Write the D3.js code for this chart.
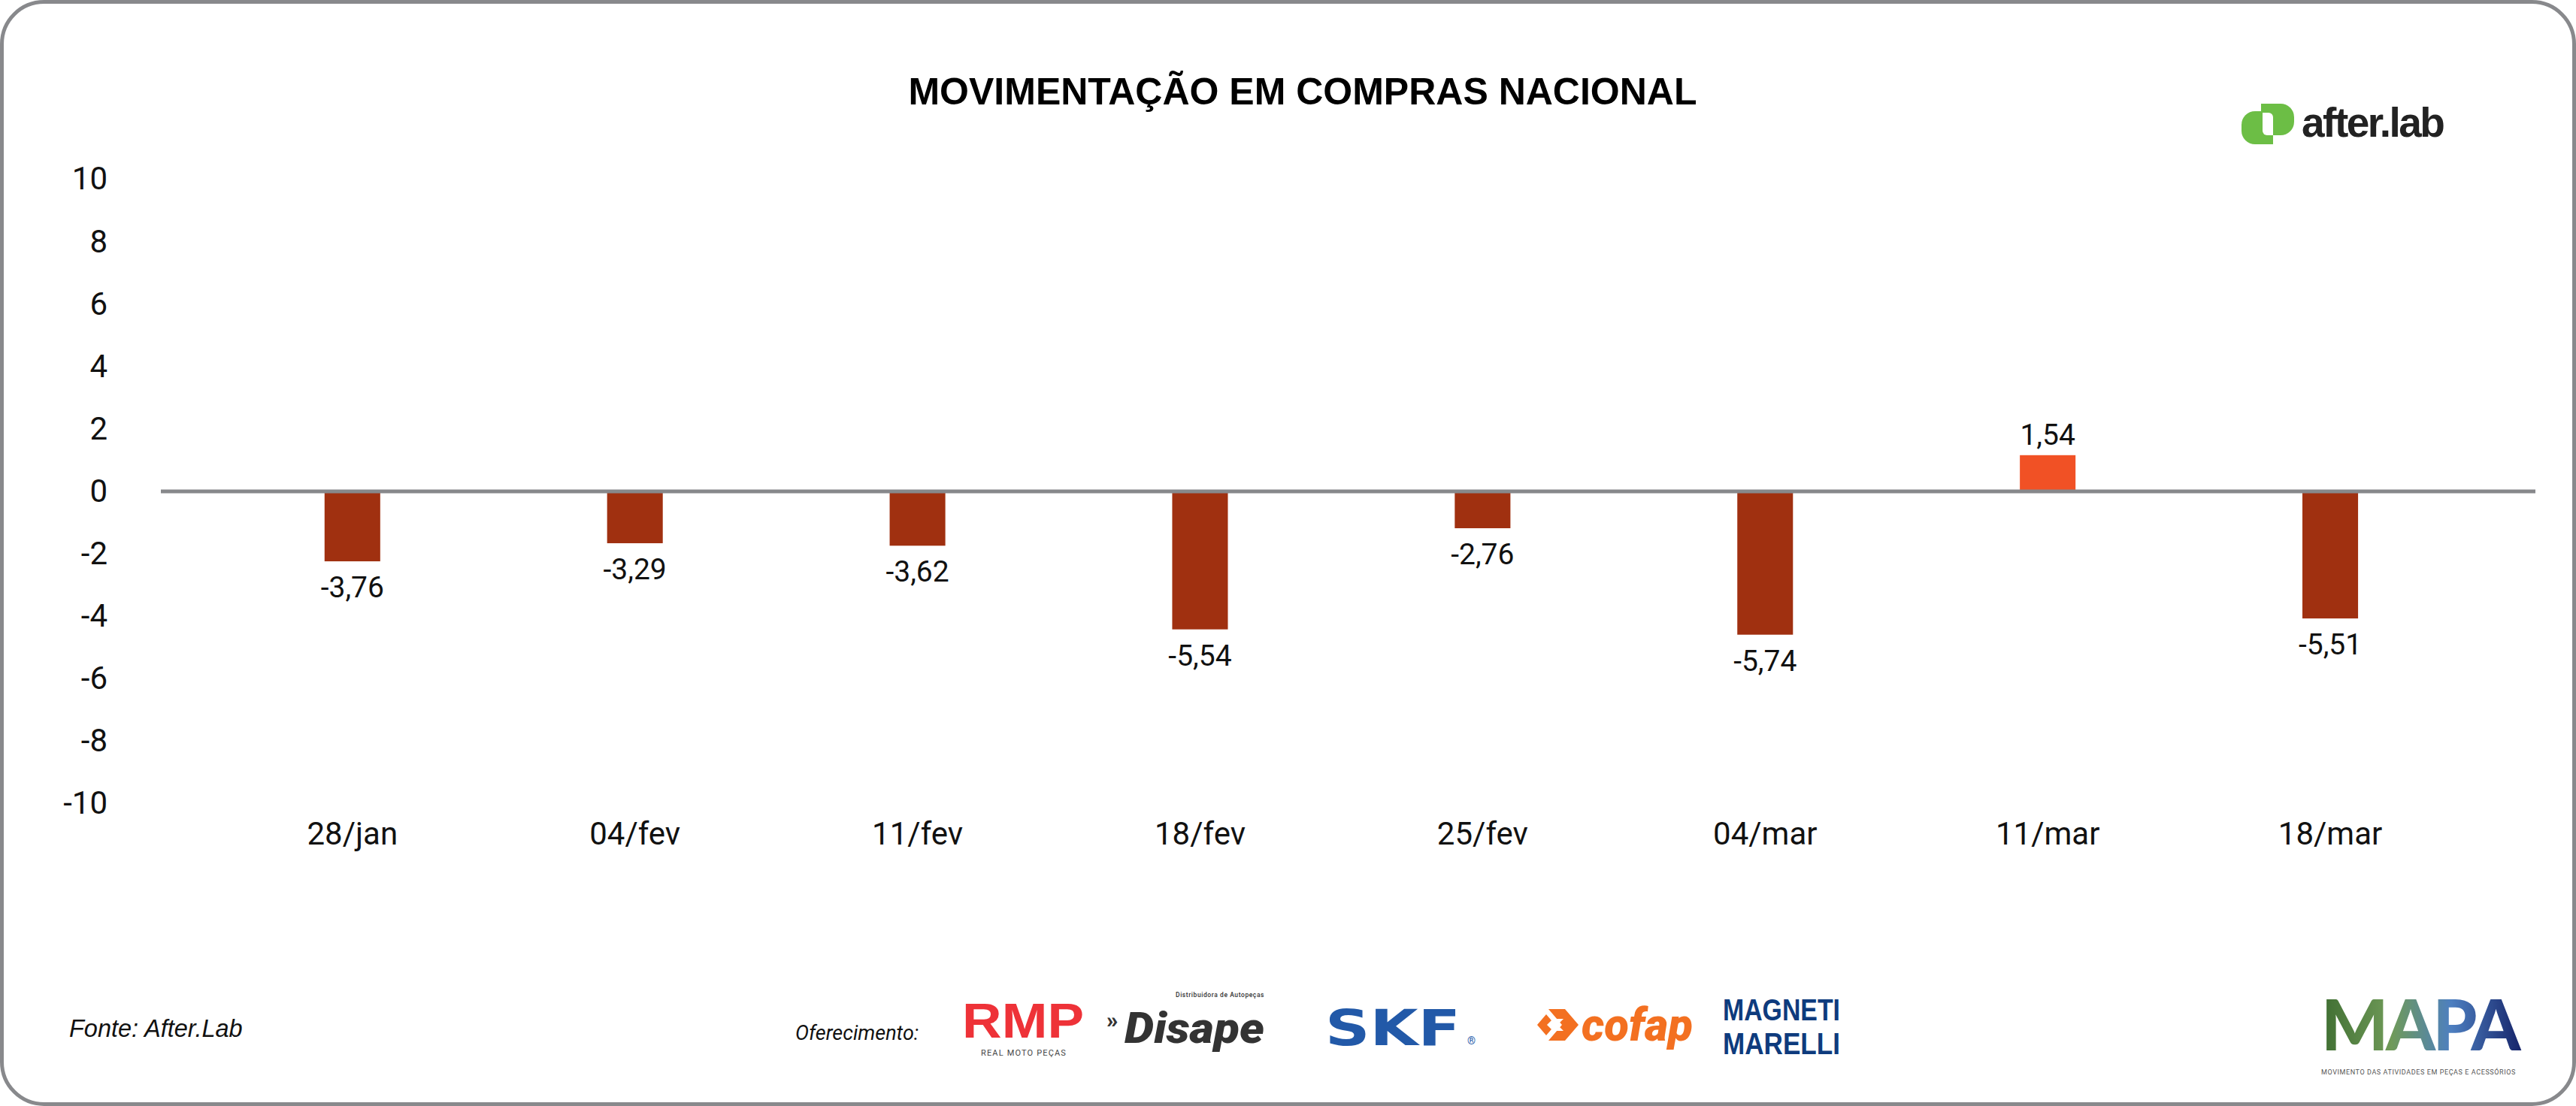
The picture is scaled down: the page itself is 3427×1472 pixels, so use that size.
<!DOCTYPE html>
<html>
<head>
<meta charset="utf-8">
<script src="https://cdn.jsdelivr.net/npm/d3@7"></script>
<style>
  html, body { margin: 0; padding: 0; background: #fff; overflow: hidden; }
  svg { display: block; }
</style>
</head>
<body>
<div id="chart"></div>
<script>
// Weekly series
const categories = ["28/jan", "04/fev", "11/fev", "18/fev", "25/fev", "04/mar", "11/mar", "18/mar"];
// bar lengths as drawn in the source picture
const barValues = [-2.24, -1.66, -1.74, -4.42, -1.18, -4.59, 1.16, -4.07];
// printed values on the bars
const labelValues = [-3.76, -3.29, -3.62, -5.54, -2.76, -5.74, 1.54, -5.51];
const yTicks = [-10, -8, -6, -4, -2, 0, 2, 4, 6, 8, 10];
const sponsors = ["RMP", "Disape", "SKF", "cofap", "MAGNETI MARELLI"];

const W = 3427, H = 1472;
const numFont = "Roboto, 'Open Sans', sans-serif";
const sansFont = "'Liberation Sans', Arial, sans-serif";

const svg = d3.select("#chart")
    .append("svg")
    .attr("width", W)
    .attr("height", H)
    .attr("viewBox", `0 0 ${W} ${H}`);

// stretch a text to a target width with letter-spacing
function fit(sel, target) {
    const len = sel.node().getComputedTextLength();
    const n = sel.text().length;
    sel.attr("letter-spacing", (target - len) / n);
    return sel;
}

// Frame
svg.append("rect")
    .attr("x", 2.5).attr("y", 2.5)
    .attr("width", W - 5).attr("height", H - 5)
    .attr("rx", 56).attr("ry", 56)
    .attr("fill", "#fff")
    .attr("stroke", "#88898c")
    .attr("stroke-width", 5);

// Title
svg.append("text")
    .attr("x", 1733).attr("y", 139)
    .attr("text-anchor", "middle")
    .attr("font-family", sansFont)
    .attr("font-weight", "bold")
    .attr("font-size", 50)
    .attr("fill", "#000")
    .text("MOVIMENTAÇÃO EM COMPRAS NACIONAL");

// after.lab logo
const logo = svg.append("g");
logo.append("path")
    .attr("d", "M2982,166 a18,18 0 0 1 18,-18 h24 v44 h-24 a18,18 0 0 1 -18,-18 z")
    .attr("fill", "#6cbe45");
logo.append("path")
    .attr("d", "M3008,138 h26 a18,18 0 0 1 18,18 v6 a18,18 0 0 1 -18,18 h-26 z")
    .attr("fill", "#6cbe45");
logo.append("path")
    .attr("d", "M3010,150 h8 a6,6 0 0 1 6,6 v24 h-8 a6,6 0 0 1 -6,-6 z")
    .attr("fill", "#fff");
logo.append("text")
    .attr("x", 3062).attr("y", 182)
    .attr("font-family", sansFont)
    .attr("font-weight", "bold")
    .attr("font-size", 55)
    .attr("letter-spacing", -2.5)
    .attr("fill", "#222")
    .text("after.lab");

// Scales
const x = d3.scaleBand()
    .domain(categories)
    .range([214, 3373])
    .paddingInner(0.803)
    .paddingOuter(0.6035)
    .align(0.48);

const y = d3.scaleLinear()
    .domain([-10, 10])
    .range([1069.5, 238.5]);

// Y axis (labels only)
svg.append("g")
    .attr("transform", "translate(143,0)")
    .call(d3.axisLeft(y).tickValues(yTicks).tickSize(0).tickPadding(0).tickFormat(d => d))
    .call(g => g.select(".domain").remove())
    .call(g => g.selectAll("text")
        .attr("font-family", numFont)
        .attr("font-size", 42)
        .attr("fill", "#111"));

// X axis (labels only)
svg.append("g")
    .attr("transform", "translate(0,1124)")
    .call(d3.axisBottom(x).tickSize(0))
    .call(g => g.select(".domain").remove())
    .call(g => g.selectAll("text")
        .attr("y", 0).attr("dy", null)
        .attr("font-family", numFont)
        .attr("font-size", 42)
        .attr("fill", "#111"));

const rows = categories.map((c, i) => ({cat: c, v: barValues[i], label: labelValues[i]}));

// Bars
svg.selectAll(".bar")
    .data(rows)
    .enter().append("rect")
    .attr("class", "bar")
    .attr("x", d => x(d.cat))
    .attr("width", x.bandwidth())
    .attr("y", d => Math.min(y(0), y(d.v)))
    .attr("height", d => Math.abs(y(d.v) - y(0)))
    .attr("fill", d => d.v < 0 ? "#a03010" : "#f15125");

// Zero line
svg.append("line")
    .attr("x1", x.range()[0]).attr("x2", x.range()[1])
    .attr("y1", y(0)).attr("y2", y(0))
    .attr("stroke", "#87888b")
    .attr("stroke-width", 5);

// Value labels
svg.selectAll(".val")
    .data(rows)
    .enter().append("text")
    .attr("class", "val")
    .attr("x", d => x(d.cat) + x.bandwidth() / 2)
    .attr("y", d => d.v < 0 ? y(d.v) + 48 : y(d.v) - 14)
    .attr("text-anchor", "middle")
    .attr("font-family", numFont)
    .attr("font-size", 39)
    .attr("fill", "#111")
    .text(d => d.label.toFixed(2).replace(".", ","));

// Footer
svg.append("text")
    .attr("x", 92).attr("y", 1380)
    .attr("font-family", sansFont)
    .attr("font-style", "italic")
    .attr("font-size", 32.5)
    .attr("fill", "#111")
    .text("Fonte: After.Lab");

svg.append("text")
    .attr("x", 1058).attr("y", 1384)
    .attr("font-family", numFont)
    .attr("font-style", "italic")
    .attr("font-size", 27)
    .attr("fill", "#111")
    .text("Oferecimento:");

// RMP
svg.append("text")
    .attr("x", 1280).attr("y", 1381)
    .attr("font-family", sansFont)
    .attr("font-weight", "bold")
    .attr("font-size", 64)
    .attr("textLength", 162).attr("lengthAdjust", "spacingAndGlyphs")
    .attr("fill", "#ee3238")
    .text(sponsors[0]);
fit(svg.append("text")
    .attr("x", 1305).attr("y", 1405)
    .attr("font-family", numFont)
    .attr("font-size", 11)
    .attr("fill", "#444")
    .text("REAL MOTO PEÇAS"), 114);

// Disape
svg.append("text")
    .attr("x", 1472).attr("y", 1368)
    .attr("font-family", numFont)
    .attr("font-weight", 900)
    .attr("font-size", 30)
    .attr("fill", "#333")
    .text("»");
svg.append("text")
    .attr("x", 1496).attr("y", 1388)
    .attr("font-family", numFont)
    .attr("font-weight", 900)
    .attr("font-style", "italic")
    .attr("font-size", 58)
    .attr("textLength", 186).attr("lengthAdjust", "spacingAndGlyphs")
    .attr("fill", "#333")
    .text(sponsors[1]);
fit(svg.append("text")
    .attr("x", 1564).attr("y", 1327)
    .attr("font-family", numFont)
    .attr("font-weight", 500)
    .attr("font-size", 8.5)
    .attr("fill", "#333")
    .text("Distribuidora de Autopeças"), 118);

// SKF
svg.append("text")
    .attr("x", 1763).attr("y", 1391)
    .attr("font-family", "'DejaVu Sans', sans-serif")
    .attr("font-weight", "bold")
    .attr("font-size", 66)
    .attr("textLength", 180).attr("lengthAdjust", "spacingAndGlyphs")
    .attr("fill", "#2259a8")
    .text(sponsors[2]);
svg.append("text")
    .attr("x", 1952).attr("y", 1390)
    .attr("font-family", numFont)
    .attr("font-size", 14)
    .attr("fill", "#2259a8")
    .text("®");

// cofap
svg.append("path")
    .attr("d", "M2060,1343 h22 l18,21 l-18,21 h-22 l18,-21 z M2045,1364 l12,-14 l12,14 l-12,14 z")
    .attr("fill", "#f37021");
svg.append("path")
    .attr("d", "M2058,1364 l8,-8 h14 l-8,8 l8,8 h-14 z")
    .attr("fill", "#fff");
svg.append("text")
    .attr("x", 2104).attr("y", 1385)
    .attr("font-family", numFont)
    .attr("font-weight", 900)
    .attr("font-style", "italic")
    .attr("font-size", 60)
    .attr("textLength", 148).attr("lengthAdjust", "spacingAndGlyphs")
    .attr("fill", "#f37021")
    .text(sponsors[3]);

// Magneti Marelli: two lines, squeezed horizontally
svg.selectAll(".mm")
    .data(sponsors[4].split(" "))
    .enter().append("text")
    .attr("class", "mm")
    .attr("x", 2292)
    .attr("y", (d, i) => 1358 + i * 45)
    .attr("font-family", sansFont)
    .attr("font-weight", "bold")
    .attr("font-size", 40)
    .attr("textLength", 156).attr("lengthAdjust", "spacingAndGlyphs")
    .attr("fill", "#0e3b7d")
    .text(d => d);

// MAPA
const defs = svg.append("defs");
const grad = defs.append("linearGradient")
    .attr("id", "mapaGradient")
    .attr("x1", "0%").attr("y1", "0%")
    .attr("x2", "100%").attr("y2", "0%");
grad.append("stop").attr("offset", "0%").attr("stop-color", "#3f6e32");
grad.append("stop").attr("offset", "35%").attr("stop-color", "#6f9a58");
grad.append("stop").attr("offset", "65%").attr("stop-color", "#4d7fc0");
grad.append("stop").attr("offset", "100%").attr("stop-color", "#16246a");

fit(svg.append("text")
    .attr("x", 3088).attr("y", 1398)
    .attr("font-family", "Lato, Roboto, sans-serif")
    .attr("font-weight", 900)
    .attr("font-size", 94)
    .attr("fill", "url(#mapaGradient)")
    .text("MAPA"), 262);
fit(svg.append("text")
    .attr("x", 3088).attr("y", 1430)
    .attr("font-family", numFont)
    .attr("font-size", 9)
    .attr("fill", "#555")
    .text("MOVIMENTO DAS ATIVIDADES EM PEÇAS E ACESSÓRIOS"), 259);
</script>
</body>
</html>
